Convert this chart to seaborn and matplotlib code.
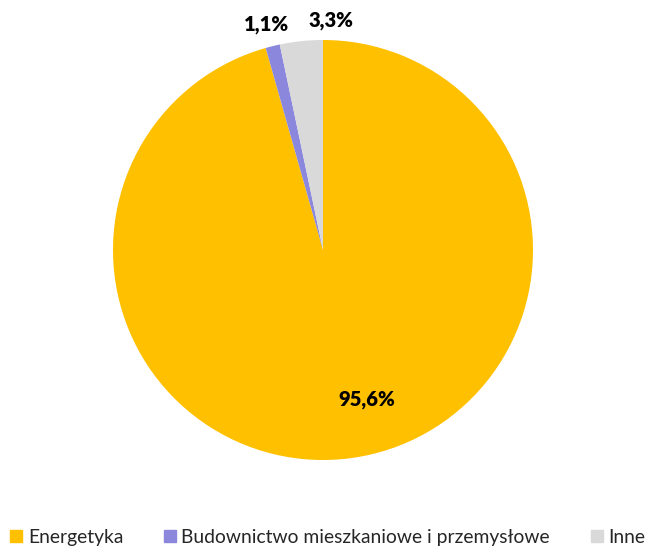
import matplotlib.pyplot as plt
import matplotlib.patches as mpatches
import seaborn as sns

# data
categories = ["Energetyka", "Budownictwo mieszkaniowe i przemysłowe", "Inne"]
shares = [95.6, 1.1, 3.3]
labels = ["95,6%", "1,1%", "3,3%"]
colors = ["#FFC000", "#8B87DD", "#D9D9D9"]

sns.set_theme(style="white")
plt.rcParams["font.family"] = ["Lato", "DejaVu Sans"]

fig = plt.figure(figsize=(6.47, 5.51), dpi=100)
ax = fig.add_axes([113 / 647, 91 / 551, 420 / 647, 420 / 551])

wedges, _ = ax.pie(shares, colors=colors, startangle=90, counterclock=False,
                   wedgeprops=dict(linewidth=0))
ax.set_xlim(-1, 1)
ax.set_ylim(-1, 1)
ax.set_aspect("equal")

# percentage labels (Excel-like placement)
label_pos = [(0.21, -0.714), (-0.27, 1.076), (0.04, 1.095)]
for (x, y), txt in zip(label_pos, labels):
    ax.text(x, y, txt, ha="center", va="center", fontsize=14.5, fontweight="heavy",
            color="black", clip_on=False)

handles = [mpatches.Patch(color=c, label=l) for c, l in zip(colors, categories)]
fig.legend(handles=handles, loc="upper left", bbox_to_anchor=(10 / 647, 1 - 529 / 551),
           ncol=3, frameon=False, fontsize=13.9, handlelength=0.62, handleheight=0.62,
           handletextpad=0.3, columnspacing=2.1, borderaxespad=0, borderpad=0)

fig.savefig("out.png", dpi=100)
